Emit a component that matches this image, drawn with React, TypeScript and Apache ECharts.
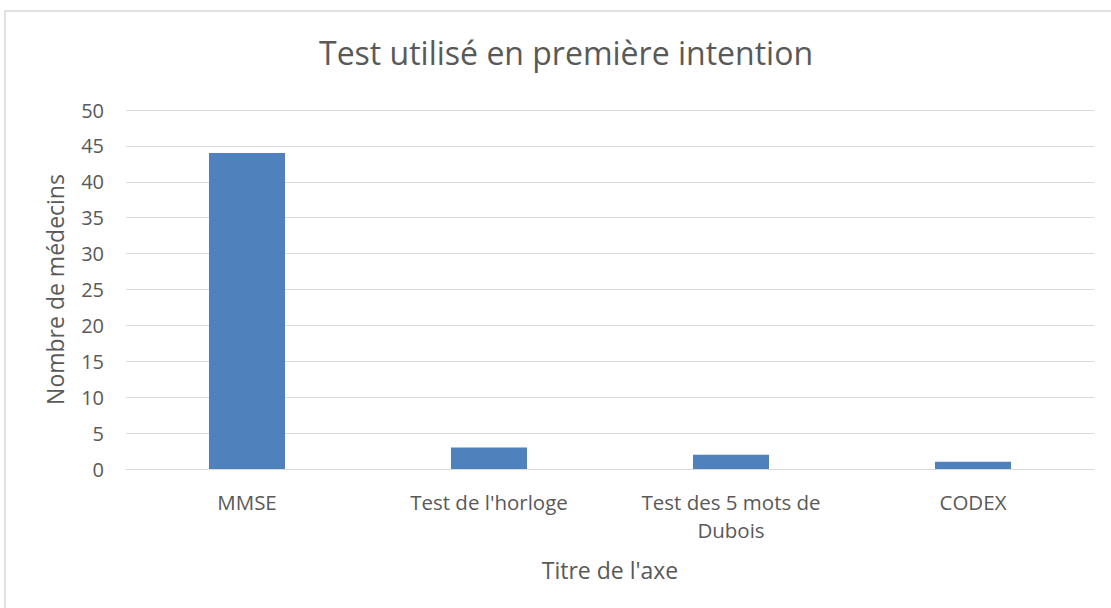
import React, { useEffect, useRef } from "react";
import * as echarts from "echarts";

const categories = ["MMSE", "Test de l'horloge", "Test des 5 mots de\nDubois", "CODEX"];
const values = [44, 3, 2, 1];
const yTicks = { min: 0, max: 50, interval: 5 };
const titleText = "Test utilisé en première intention";
const yAxisName = "Nombre de médecins";
const xAxisName = "Titre de l'axe";

const FONT = "'Open Sans', sans-serif";
const TEXT = "#595959";

export default function App() {
  const ref = useRef<HTMLDivElement>(null);
  useEffect(() => {
    const chart = echarts.init(ref.current!, null, { renderer: "svg" });
    chart.setOption({
      animation: false,
      backgroundColor: "#ffffff",
      title: {
        text: titleText,
        left: 561,
        top: 31,
        textAlign: "center",
        textStyle: { fontFamily: FONT, fontSize: 32, fontWeight: "normal", color: TEXT },
      },
      graphic: [
        {
          type: "rect",
          shape: { x: 5, y: 11, width: 1130, height: 630 },
          style: { fill: "none", stroke: "#D9D9D9", lineWidth: 1.5 },
          silent: true,
        },
      ],
      grid: { left: 126, right: 17, top: 110, bottom: 139, containLabel: false },
      xAxis: {
        type: "category",
        data: categories,
        axisLine: { show: true, lineStyle: { color: "#D9D9D9", width: 1 } },
        axisTick: { show: false },
        axisLabel: {
          fontFamily: FONT,
          fontSize: 20.5,
          color: TEXT,
          margin: 19,
          lineHeight: 28,
          interval: 0,
        },
        name: xAxisName,
        nameLocation: "middle",
        nameGap: 89,
        nameTextStyle: { fontFamily: FONT, fontSize: 23, color: TEXT },
      },
      yAxis: {
        type: "value",
        min: yTicks.min,
        max: yTicks.max,
        interval: yTicks.interval,
        axisLine: { show: false },
        axisTick: { show: false },
        splitLine: { lineStyle: { color: "#D9D9D9", width: 1 } },
        axisLabel: { fontFamily: FONT, fontSize: 20, color: TEXT, margin: 22 },
        name: yAxisName,
        nameLocation: "middle",
        nameGap: 60,
        nameRotate: 90,
        nameTextStyle: { fontFamily: FONT, fontSize: 23, color: TEXT },
      },
      series: [
        {
          type: "bar",
          data: values,
          barWidth: 76,
          itemStyle: { color: "#4F81BD" },
        },
      ],
    });
    return () => chart.dispose();
  }, []);
  return (
    <div
      ref={ref}
      style={{ position: "absolute", left: 0, top: 0, width: 1111, height: 608 }}
    />
  );
}
